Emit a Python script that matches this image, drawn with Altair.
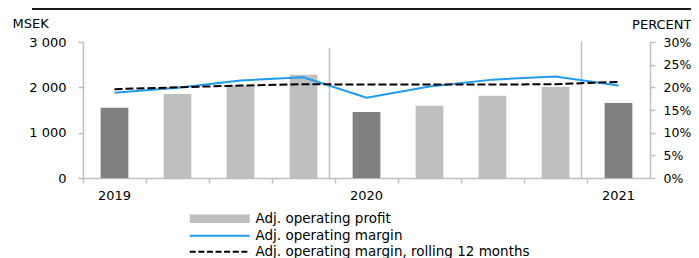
import altair as alt
import pandas as pd

# ---- data ----
quarters = ["2019 Q1", "2019 Q2", "2019 Q3", "2019 Q4",
            "2020 Q1", "2020 Q2", "2020 Q3", "2020 Q4", "2021 Q1"]
profit = [1551, 1853, 2043, 2279, 1456, 1595, 1816, 2007, 1654]          # MSEK
margin = [18.8, 19.9, 21.5, 22.2, 17.7, 20.2, 21.7, 22.4, 20.4]          # percent
rolling = [19.6, 20.0, 20.4, 20.7, 20.6, 20.6, 20.6, 20.7, 21.2]         # percent
series_names = ["Adj. operating profit", "Adj. operating margin",
                "Adj. operating margin, rolling 12 months"]
sep_quarters = ["2020 Q1", "2021 Q1"]
sep_tops = [28.7, 30.1]          # height of the year separators (percent axis units)
left_ticks = [0, 1000, 2000, 3000]
right_ticks = [0, 5, 10, 15, 20, 25, 30]

FONT = "DejaVu Sans"
BLUE = "#1f9bf0"
DARK = "#808080"
LIGHT = "#bfbfbf"

bar_df = pd.DataFrame({"quarter": quarters, "profit": profit})
margin_df = pd.DataFrame({"quarter": quarters, "value": margin})
rolling_df = pd.DataFrame({"quarter": quarters, "value": rolling})
sep_df = pd.DataFrame({"quarter": sep_quarters, "value": sep_tops, "base": [0] * len(sep_quarters)})
leg_df = pd.DataFrame({"quarter": [quarters[0]] * 3, "series": series_names})

xscale = alt.Scale(domain=quarters, paddingInner=0, paddingOuter=0)
X_AX = alt.Axis(bandPosition=0, labelAngle=0, labelPadding=6, title=None,
                labelExpr="test(/Q1/, '' + datum.value) ? substring('' + datum.value, 0, 4) : ''")
x_main = alt.X("quarter:N", scale=xscale, title=None, axis=X_AX)

lscale = alt.Scale(domain=[0, 3000], nice=False)
rscale = alt.Scale(domain=[0, 30], nice=False)

L_AX = alt.Axis(values=left_ticks, orient="left", labelPadding=12,
                labelExpr="datum.value == 0 ? '0' : (datum.value / 1000) + ' 000'",
                title="MSEK", titleAngle=0, titleAlign="left",
                titleBaseline="alphabetic", titleX=-71, titleY=-15)
R_AX = alt.Axis(values=right_ticks, orient="right", labelPadding=8, labelFontSize=12.5,
                labelExpr="datum.value + '%'",
                title="PERCENT", titleAngle=0, titleAlign="right",
                titleBaseline="alphabetic", titleX=41, titleY=-14)

bars = alt.Chart(bar_df).mark_bar(width={"band": 0.44}).encode(
    x=x_main,
    y=alt.Y("profit:Q", scale=lscale, title="MSEK", axis=L_AX),
    color=alt.condition("test(/Q1/, datum.quarter)", alt.value(DARK), alt.value(LIGHT)),
)

y_right = alt.Y("value:Q", scale=rscale, title="PERCENT", axis=R_AX)

seps = alt.Chart(sep_df).mark_rule(color=LIGHT, strokeWidth=1.5, xOffset=-37).encode(
    x=x_main,
    y=y_right,
    y2="base:Q",
)
blue_line = alt.Chart(margin_df).mark_line(color=BLUE, strokeWidth=2).encode(x=x_main, y=y_right)
dash_line = alt.Chart(rolling_df).mark_line(color="black", strokeWidth=2, strokeDash=[8, 3]).encode(
    x=x_main, y=y_right)

rect_path = "M-6,-0.83H6V0.83H-6Z"
line_path = "M-6,0H6"
leg = alt.Legend(title=None, orient="none", legendX=130, legendY=170, padding=0,
                 direction="vertical", labelFont=FONT, labelFontSize=13.5, labelColor="black",
                 labelLimit=400, symbolStrokeWidth=2, rowPadding=1, labelOffset=29,
                 symbolSize=100, symbolOpacity=1)
legend_layer = alt.Chart(leg_df).mark_point(opacity=0, filled=True).encode(
    x=x_main,
    y=alt.value(0),
    shape=alt.Shape("series:N", scale=alt.Scale(domain=series_names, range=[rect_path, line_path, line_path]), legend=leg),
    fill=alt.Fill("series:N", scale=alt.Scale(domain=series_names, range=[LIGHT, "transparent", "transparent"]), legend=leg),
    stroke=alt.Stroke("series:N", scale=alt.Scale(domain=series_names, range=["transparent", BLUE, "black"]), legend=leg),
    strokeDash=alt.StrokeDash("series:N", scale=alt.Scale(domain=series_names, range=[[1, 0], [1, 0], [6, 2.6]]), legend=leg),
)

deco = alt.Chart(pd.DataFrame({"a": [0]})).mark_rule(color="#1a1a1a", strokeWidth=2).encode(
    x=alt.value(-51), x2=alt.value(608), y=alt.value(-33))

chart = alt.layer(
    bars,
    alt.layer(seps, blue_line, dash_line),
    legend_layer,
    deco,
).resolve_scale(y="independent").properties(
    width=567, height=136,
    padding={"left": 75, "top": 34, "right": 41, "bottom": 80},
    autosize=alt.AutoSizeParams(type="none"),
).configure_view(stroke=None).configure_axis(
    domainColor=LIGHT, domainWidth=1.5, tickColor=LIGHT, tickWidth=1.5, tickSize=5,
    grid=False, labelFont=FONT, labelFontSize=13, labelColor="black",
    titleFont=FONT, titleFontSize=13, titleFontWeight="normal", titleColor="black",
)

chart.save("out.html", embed_options={"renderer": "svg", "actions": False})
